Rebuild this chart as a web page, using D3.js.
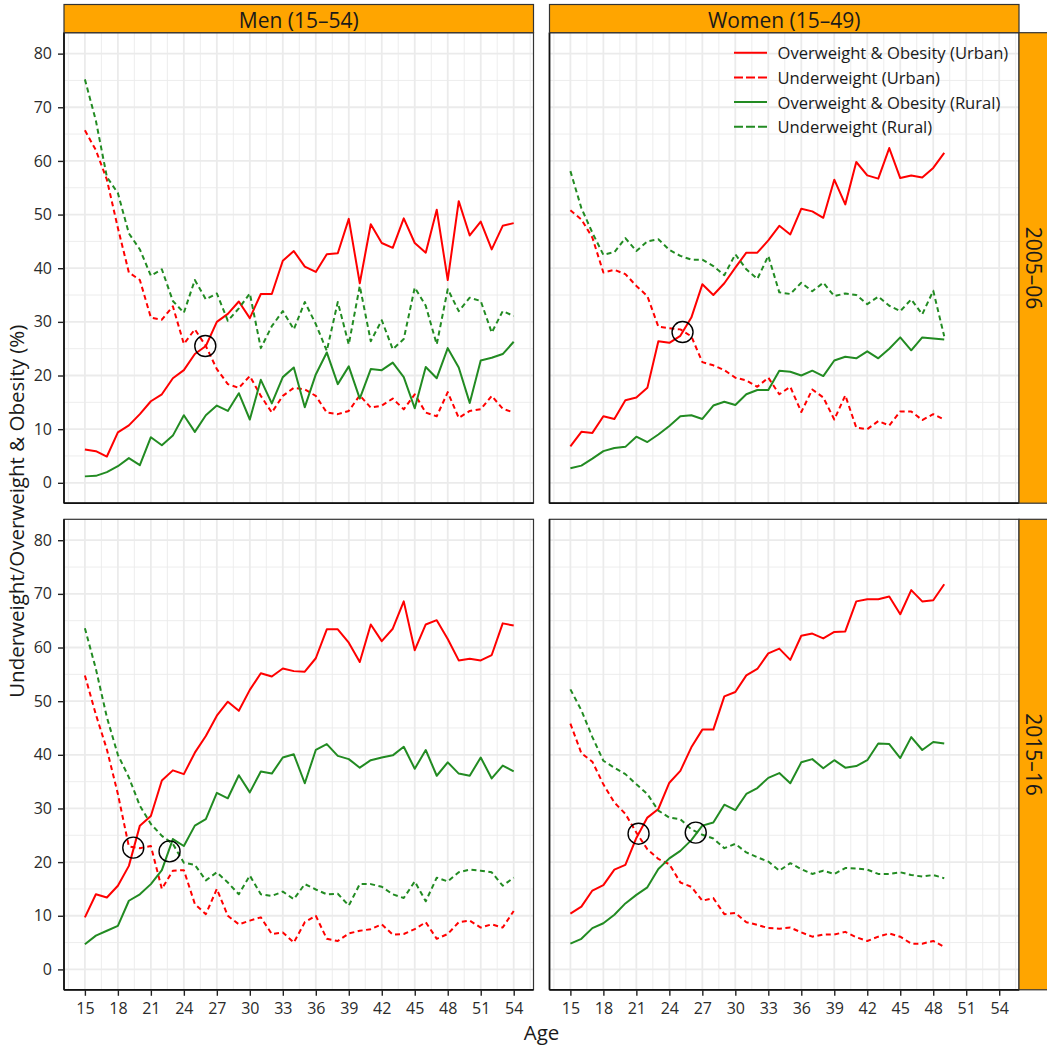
<!DOCTYPE html>
<html>
<head>
<meta charset="utf-8">
<script src="https://cdn.jsdelivr.net/npm/d3@7"></script>
<style>
  body { margin: 0; background: #fff; }
  svg { display: block; }
  text { font-family: "Open Sans", "Noto Sans", sans-serif; }
</style>
</head>
<body>
<svg id="chart" width="1047" height="1045"></svg>
<script>
// ---- Data -------------------------------------------------------------
const menAges = [15,16,17,18,19,20,21,22,23,24,25,26,27,28,29,30,31,32,33,34,
                 35,36,37,38,39,40,41,42,43,44,45,46,47,48,49,50,51,52,53,54];
const womenAges = [15,16,17,18,19,20,21,22,23,24,25,26,27,28,29,30,31,32,33,34,
                   35,36,37,38,39,40,41,42,43,44,45,46,47,48,49];

const xTickValues = [15,18,21,24,27,30,33,36,39,42,45,48,51,54];
const yTickValues = [0,10,20,30,40,50,60,70,80];

const sexLabels = ["Men (15\u201354)", "Women (15\u201349)"];
const periodLabels = ["2005\u201306", "2015\u201316"];
const seriesNames = ["Overweight & Obesity (Urban)", "Underweight (Urban)",
                     "Overweight & Obesity (Rural)", "Underweight (Rural)"];

// Men, 2005–06
const men2005OwUrban = [6.2,5.9,4.9,9.4,10.7,12.8,15.2,16.5,19.5,21.0,24.0,25.5,30.0,31.5,33.8,30.7,35.2,35.2,41.4,43.2,
                        40.3,39.3,42.6,42.8,49.2,37.2,48.2,44.7,43.8,49.3,44.7,42.9,50.9,37.8,52.5,46.1,48.7,43.5,47.9,48.4];
const men2005UwUrban = [65.7,62.0,56.5,47.5,39.2,37.8,30.8,30.4,32.9,25.9,28.6,25.5,21.2,18.4,17.7,19.9,16.2,13.1,16.2,17.7,
                        17.4,16.2,13.1,12.8,13.4,16.3,14.0,14.4,15.7,13.7,16.5,13.1,12.4,16.9,12.1,13.4,13.7,16.2,13.8,13.1];
const men2005OwRural = [1.2,1.3,2.0,3.1,4.6,3.3,8.5,7.0,8.8,12.6,9.5,12.6,14.4,13.4,16.7,11.8,19.2,14.8,19.7,21.5,
                        14.1,20.2,24.3,18.4,21.7,15.7,21.2,21.0,22.4,19.7,13.9,21.6,19.5,25.1,21.5,14.9,22.8,23.3,24.0,26.3];
const men2005UwRural = [75.2,67.5,57.0,54.0,46.5,43.5,38.6,39.8,33.9,31.7,37.8,34.2,35.3,30.2,32.5,35.3,25.1,29.2,32.0,28.6,
                        33.7,29.6,24.6,33.7,25.8,36.7,26.4,30.3,24.9,26.8,36.4,33.0,25.8,36.1,32.0,34.5,33.9,28.0,32.0,31.1];

// Women, 2005–06
const women2005OwUrban = [6.8,9.5,9.3,12.4,11.9,15.4,15.9,17.7,26.4,26.1,27.4,30.8,37.0,35.0,37.2,40.1,42.9,42.9,45.2,47.9,
                          46.3,51.1,50.6,49.4,56.5,51.9,59.8,57.3,56.7,62.4,56.8,57.3,56.9,58.7,61.5];
const women2005UwUrban = [50.8,49.1,45.7,39.2,39.7,38.9,36.7,34.8,29.1,28.8,28.6,27.3,22.5,21.9,21.0,19.6,19.1,17.9,19.6,16.5,
                          17.9,13.2,17.4,15.9,11.8,16.3,10.3,10.0,11.5,10.7,13.3,13.3,11.7,12.8,11.8];
const women2005OwRural = [2.7,3.2,4.5,5.9,6.5,6.7,8.6,7.6,9.0,10.6,12.4,12.6,11.9,14.4,15.1,14.5,16.5,17.3,17.3,20.9,
                          20.7,20.0,20.9,19.9,22.8,23.5,23.2,24.5,23.2,25.0,27.1,24.7,27.1,26.9,26.7];
const women2005UwRural = [58.1,51.2,46.6,42.5,43.0,45.6,43.2,45.0,45.4,43.4,42.3,41.6,41.6,40.4,38.7,42.6,39.8,38.0,42.3,35.5,
                          35.2,37.3,35.7,37.3,34.8,35.3,35.0,33.3,34.7,33.0,32.0,34.2,31.4,35.8,27.3];

// Men, 2015–16
const men2015OwUrban = [9.7,14.0,13.4,15.6,19.3,26.8,28.6,35.2,37.1,36.4,40.4,43.5,47.3,49.9,48.2,52.1,55.2,54.6,56.1,55.6,
                        55.5,58.0,63.4,63.4,60.9,57.3,64.3,61.2,63.5,68.6,59.5,64.3,65.1,61.6,57.6,57.9,57.6,58.6,64.5,64.1];
const men2015UwUrban = [54.8,47.5,41.0,32.7,22.9,22.6,23.0,15.0,18.4,18.5,12.2,10.3,15.0,10.0,8.4,9.1,9.7,6.6,6.9,5.0,
                        8.8,10.0,5.7,5.3,6.7,7.2,7.5,8.4,6.5,6.6,7.5,8.8,5.7,6.6,8.8,9.1,7.8,8.4,7.8,10.9];
const men2015OwRural = [4.7,6.3,7.2,8.1,12.8,14.0,15.9,18.5,24.3,23.0,26.8,28.0,32.9,31.9,36.2,33.0,36.9,36.5,39.5,40.1,
                        34.7,40.9,42.0,39.8,39.2,37.6,39.0,39.5,39.9,41.5,37.4,40.9,36.1,38.6,36.5,36.1,39.5,35.6,38.0,36.9];
const men2015UwRural = [63.6,56.0,47.0,40.0,35.8,30.5,27.1,24.9,23.4,19.9,19.5,16.6,18.1,16.2,14.0,17.5,14.0,13.7,14.5,13.1,
                        15.9,14.9,14.0,14.1,11.9,15.9,15.9,15.4,14.0,13.3,16.4,12.7,17.1,16.4,18.1,18.6,18.4,18.1,15.6,17.1];

// Women, 2015–16
const women2015OwUrban = [10.4,11.7,14.7,15.7,18.6,19.5,24.5,28.3,29.9,34.8,37.0,41.4,44.7,44.7,50.9,51.7,54.8,56.0,58.9,59.8,
                          57.7,62.2,62.6,61.7,62.9,63.0,68.6,69.0,69.0,69.5,66.2,70.7,68.6,68.8,71.8];
const women2015UwUrban = [45.8,40.3,38.7,34.5,31.1,29.0,25.5,22.4,20.6,19.6,16.2,15.4,12.8,13.3,10.3,10.5,8.8,8.3,7.7,7.6,
                          7.8,6.9,6.1,6.5,6.5,7.0,6.0,5.3,6.1,6.7,6.1,4.8,4.8,5.3,4.2];
const women2015OwRural = [4.8,5.7,7.7,8.6,10.2,12.3,13.9,15.3,18.7,20.7,22.1,24.1,26.8,27.4,30.7,29.7,32.7,33.8,35.7,36.6,
                          34.7,38.6,39.2,37.5,39.0,37.6,37.9,39.0,42.1,42.0,39.4,43.3,40.9,42.4,42.1];
const women2015UwRural = [52.2,48.3,43.3,38.9,37.6,36.4,34.5,32.7,29.6,28.3,28.0,26.1,25.1,24.4,22.6,23.4,21.8,20.9,20.1,18.4,
                          19.8,18.7,17.8,18.4,17.8,18.9,18.8,18.6,17.8,17.8,18.1,17.6,17.3,17.6,17.0];

// Ages / values where the under- and over-weight curves cross (marked by rings)
const men2005Crossings = [[25.95, 25.5]];
const women2005Crossings = [[25.2, 28.1]];
const men2015Crossings = [[19.4, 22.7], [22.7, 22.0]];
const women2015Crossings = [[21.2, 25.3], [26.4, 25.5]];

// ---- Layout -----------------------------------------------------------
const colX0 = [64, 549.5];
const rowY0 = [32.7, 519.3];
const panelW = 469.5;
const panelH = 470.5;
const stripTop = 4.5;
const rightStripX = 1019;

const tickFont = "16px";
const stripFont = "21px";
const titleFont = "20.5px";
const legendFont = "16.6px";

const seriesStyle = [
  { color: "#FF0000", dash: null },
  { color: "#FF0000", dash: "5,3.5" },
  { color: "#228B22", dash: null },
  { color: "#228B22", dash: "5,3.5" }
];

const panels = [
  { col: 0, row: 0, ages: menAges,   series: [men2005OwUrban, men2005UwUrban, men2005OwRural, men2005UwRural], rings: men2005Crossings },
  { col: 1, row: 0, ages: womenAges, series: [women2005OwUrban, women2005UwUrban, women2005OwRural, women2005UwRural], rings: women2005Crossings },
  { col: 0, row: 1, ages: menAges,   series: [men2015OwUrban, men2015UwUrban, men2015OwRural, men2015UwRural], rings: men2015Crossings },
  { col: 1, row: 1, ages: womenAges, series: [women2015OwUrban, women2015UwUrban, women2015OwRural, women2015UwRural], rings: women2015Crossings }
];

const x = d3.scaleLinear().domain([13.1, 55.8]).range([0, panelW]);
const y = d3.scaleLinear().domain([-3.8, 83.9]).range([panelH, 0]);

const xMinor = [13.5,16.5,19.5,22.5,25.5,28.5,31.5,34.5,37.5,40.5,43.5,46.5,49.5,52.5,55.5];
const yMinor = [5,15,25,35,45,55,65,75];

const svg = d3.select("#chart");
svg.append("rect").attr("width", 1047).attr("height", 1045).attr("fill", "#fff");

panels.forEach(p => {
  const g = svg.append("g").attr("transform", `translate(${colX0[p.col]},${rowY0[p.row]})`);

  g.append("rect").attr("width", panelW).attr("height", panelH).attr("fill", "#fff");

  // grid
  const grid = g.append("g").attr("stroke", "#EBEBEB");
  grid.selectAll(".vmin").data(xMinor).join("line")
    .attr("x1", d => x(d)).attr("x2", d => x(d)).attr("y1", 0).attr("y2", panelH)
    .attr("stroke-width", 0.9);
  grid.selectAll(".hmin").data(yMinor).join("line")
    .attr("y1", d => y(d)).attr("y2", d => y(d)).attr("x1", 0).attr("x2", panelW)
    .attr("stroke-width", 0.9);
  grid.selectAll(".vmaj").data(xTickValues).join("line")
    .attr("x1", d => x(d)).attr("x2", d => x(d)).attr("y1", 0).attr("y2", panelH)
    .attr("stroke-width", 1.8);
  grid.selectAll(".hmaj").data(yTickValues).join("line")
    .attr("y1", d => y(d)).attr("y2", d => y(d)).attr("x1", 0).attr("x2", panelW)
    .attr("stroke-width", 1.8);

  // series
  p.series.forEach((vals, i) => {
    const line = d3.line().x((d, k) => x(p.ages[k])).y(d => y(d));
    g.append("path")
      .attr("d", line(vals))
      .attr("fill", "none")
      .attr("stroke", seriesStyle[i].color)
      .attr("stroke-width", 2)
      .attr("stroke-linejoin", "round")
      .attr("stroke-dasharray", seriesStyle[i].dash);
  });

  // crossing rings
  g.selectAll(".ring").data(p.rings).join("circle")
    .attr("cx", d => x(d[0])).attr("cy", d => y(d[1])).attr("r", 10.5)
    .attr("fill", "none").attr("stroke", "#000").attr("stroke-width", 1.4);

  // border
  g.append("rect").attr("width", panelW).attr("height", panelH)
    .attr("fill", "none").attr("stroke", "#333").attr("stroke-width", 1.2);

  // axis lines (left + bottom)
  g.append("line").attr("x1", 0).attr("x2", 0).attr("y1", 0).attr("y2", panelH)
    .attr("stroke", "#111").attr("stroke-width", 1.7);
  g.append("line").attr("x1", 0).attr("x2", panelW).attr("y1", panelH).attr("y2", panelH)
    .attr("stroke", "#111").attr("stroke-width", 1.7);

  // y axis on the left column
  if (p.col === 0) {
    const ya = g.append("g").call(d3.axisLeft(y).tickValues(yTickValues).tickSize(6).tickPadding(6));
    ya.select(".domain").remove();
    ya.selectAll(".tick line").attr("stroke", "#222").attr("stroke-width", 1.4);
    ya.selectAll(".tick text").attr("fill", "#2b2b2b").style("font-size", tickFont)
      .style("font-family", "'Open Sans', sans-serif");
  }
  // x axis on the bottom row
  if (p.row === 1) {
    const xa = g.append("g").attr("transform", `translate(0,${panelH})`)
      .call(d3.axisBottom(x).tickValues(xTickValues).tickSize(6).tickPadding(7));
    xa.select(".domain").remove();
    xa.selectAll(".tick line").attr("stroke", "#222").attr("stroke-width", 1.4);
    xa.selectAll(".tick text").attr("fill", "#2b2b2b").style("font-size", tickFont)
      .style("font-family", "'Open Sans', sans-serif");
  }
});

// top strips
sexLabels.forEach((lab, i) => {
  const g = svg.append("g").attr("transform", `translate(${colX0[i]},${stripTop})`);
  g.append("rect").attr("width", panelW).attr("height", rowY0[0] - stripTop)
    .attr("fill", "#FFA500").attr("stroke", "#333").attr("stroke-width", 1.2);
  g.append("text").attr("x", panelW / 2).attr("y", (rowY0[0] - stripTop) / 2 + 1)
    .attr("text-anchor", "middle").attr("dominant-baseline", "central")
    .attr("fill", "#1A1A1A").style("font-size", stripFont).text(lab);
});

// right strips
periodLabels.forEach((lab, i) => {
  const g = svg.append("g").attr("transform", `translate(${rightStripX},${rowY0[i]})`);
  g.append("rect").attr("width", 40).attr("height", panelH)
    .attr("fill", "#FFA500").attr("stroke", "#333").attr("stroke-width", 1.2);
  g.append("text").attr("transform", `translate(14.5,${panelH / 2}) rotate(90)`)
    .attr("text-anchor", "middle").attr("dominant-baseline", "central")
    .attr("fill", "#1A1A1A").style("font-size", stripFont).text(lab);
});

// axis titles
svg.append("text").attr("x", (colX0[0] + colX0[1] + panelW) / 2).attr("y", 1040)
  .attr("text-anchor", "middle").attr("fill", "#1A1A1A").style("font-size", titleFont).text("Age");
svg.append("text")
  .attr("transform", `translate(24,${(rowY0[0] + rowY0[1] + panelH) / 2}) rotate(-90)`)
  .attr("text-anchor", "middle").attr("fill", "#1A1A1A").style("font-size", titleFont)
  .text("Underweight/Overweight & Obesity (%)");

// legend inside the top-right panel
const legend = svg.append("g").attr("transform", "translate(734,52.7)");
seriesNames.forEach((name, i) => {
  const row = legend.append("g").attr("transform", `translate(0,${i * 24.7})`);
  row.append("line").attr("x1", 0).attr("x2", 33).attr("y1", 0).attr("y2", 0)
    .attr("stroke", seriesStyle[i].color).attr("stroke-width", 2)
    .attr("stroke-dasharray", seriesStyle[i].dash ? "9,3" : null);
  row.append("text").attr("x", 43.5).attr("y", 0).attr("dominant-baseline", "central")
    .attr("fill", "#1A1A1A").style("font-size", legendFont).text(name);
});
</script>
</body>
</html>
